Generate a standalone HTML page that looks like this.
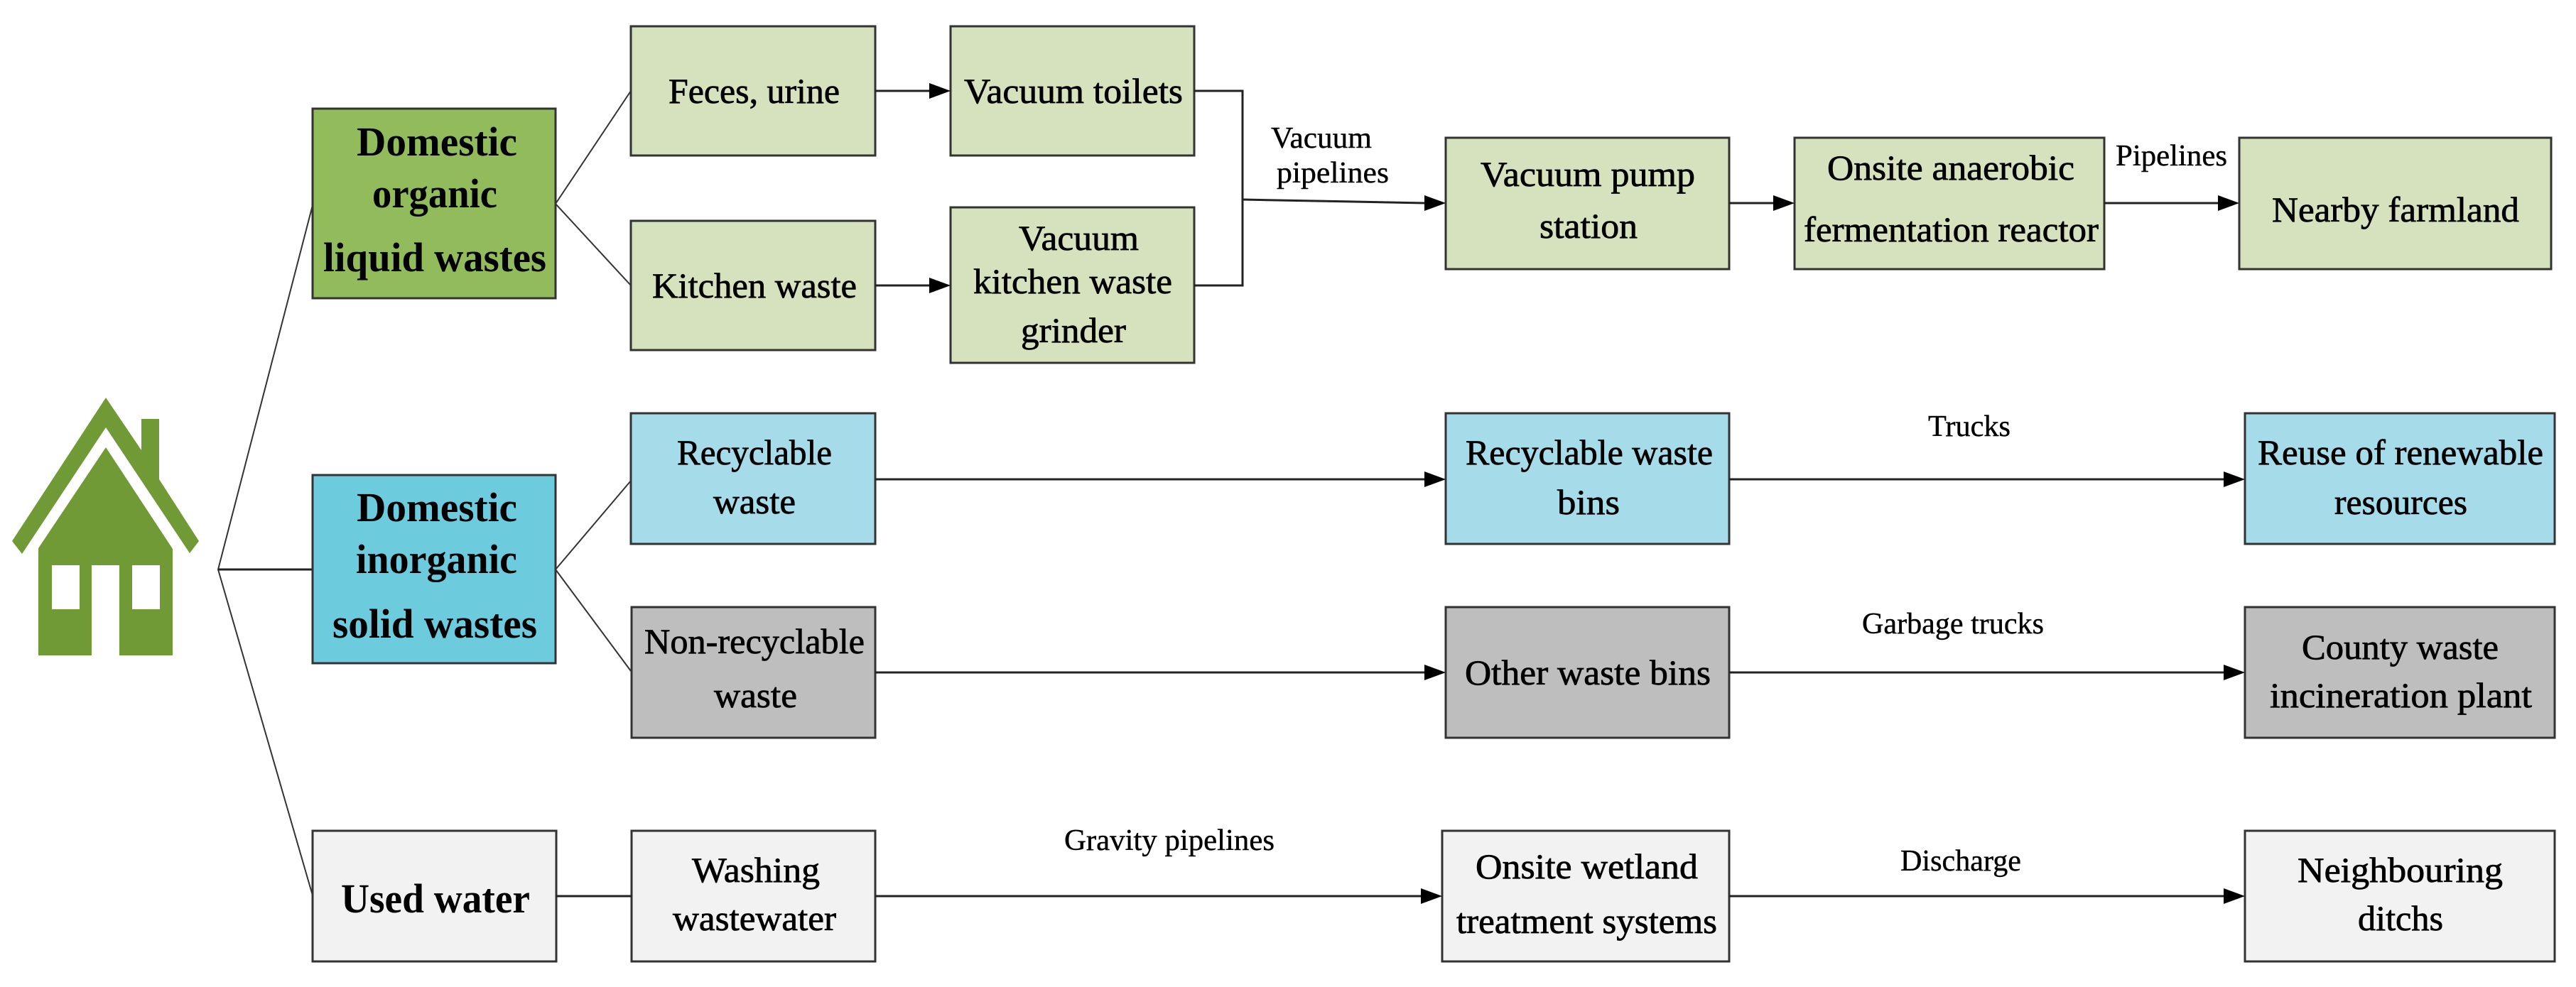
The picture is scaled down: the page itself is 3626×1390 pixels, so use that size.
<!DOCTYPE html>
<html lang="en">
<head>
<meta charset="utf-8">
<title>Domestic waste flow diagram</title>
<style>
html,body{margin:0;padding:0;background:#fff}
svg{display:block}
text{font-family:"Liberation Serif",serif;fill:#000}
.h{font-size:58px;font-weight:700}
.m{font-size:50px;stroke:#000;stroke-width:.75px}
.l{font-size:42px;stroke:#000;stroke-width:.4px}
.b{stroke:#333;stroke-width:3}
.c{stroke:#222;stroke-width:3;fill:none}
.t{stroke:#333;stroke-width:2;fill:none}
.a{fill:#000}
</style>
</head>
<body>
<svg xmlns="http://www.w3.org/2000/svg" width="3626" height="1390" viewBox="0 0 3626 1390">
<rect width="3626" height="1390" fill="#fff"/>

<!-- house -->
<g fill="#6f9a36">
<path d="M149 560 L199 634 L199 590 L224 590 L224 675 L280 762 L267 779 L149 602 L31 780 L17 762 Z"/>
<path fill-rule="evenodd" d="M149 630 L243 773 L243 923 L168 923 L168 796 L129 796 L129 923 L54 923 L54 772 Z M73 796 L112 796 L112 858 L73 858 Z M186 796 L225 796 L225 858 L186 858 Z"/>
</g>

<!-- thin connectors -->
<path class="t" d="M440 289 L307 802 L440 1261"/>
<path class="c" d="M307 802 L440 802"/>
<path class="t" d="M888 128 L782 287 L888 402"/>
<path class="t" d="M888 677 L782 802 L888 945"/>

<!-- boxes -->
<g class="b">
<rect x="440" y="153" width="342" height="267" fill="#92bc5b"/>
<rect x="440" y="669" width="342" height="265" fill="#6ccbdd"/>
<rect x="440" y="1170" width="343" height="184" fill="#f2f2f2"/>
<rect x="888" y="37" width="344" height="182" fill="#d5e2bd"/>
<rect x="888" y="311" width="344" height="182" fill="#d5e2bd"/>
<rect x="1338" y="37" width="343" height="182" fill="#d5e2bd"/>
<rect x="1338" y="292" width="343" height="219" fill="#d5e2bd"/>
<rect x="2035" y="194" width="399" height="185" fill="#d5e2bd"/>
<rect x="2526" y="194" width="436" height="185" fill="#d5e2bd"/>
<rect x="3152" y="194" width="439" height="185" fill="#d5e2bd"/>
<rect x="888" y="582" width="344" height="184" fill="#a6dcea"/>
<rect x="2035" y="582" width="399" height="184" fill="#a6dcea"/>
<rect x="3160" y="582" width="436" height="184" fill="#a6dcea"/>
<rect x="889" y="855" width="343" height="184" fill="#bebebe"/>
<rect x="2035" y="855" width="399" height="184" fill="#bebebe"/>
<rect x="3160" y="855" width="436" height="184" fill="#bebebe"/>
<rect x="889" y="1170" width="343" height="184" fill="#f2f2f2"/>
<rect x="2030" y="1170" width="404" height="184" fill="#f2f2f2"/>
<rect x="3160" y="1170" width="436" height="184" fill="#f2f2f2"/>
</g>

<!-- arrows and lines -->
<g class="c">
<path d="M1232 128 H1310"/>
<path d="M1232 402 H1310"/>
<path d="M1681 128 H1749 V402 H1681"/>
<path d="M1749 281 L2006 286"/>
<path d="M2434 286 H2498"/>
<path d="M2962 286 H3124"/>
<path d="M1232 675 H2007"/>
<path d="M2434 675 H3132"/>
<path d="M1232 947 H2007"/>
<path d="M2434 947 H3132"/>
<path d="M783 1262 H889"/>
<path d="M1232 1262 H2002"/>
<path d="M2434 1262 H3132"/>
</g>
<g class="a">
<polygon points="1338,128 1308,117 1308,139"/>
<polygon points="1338,402 1308,391 1308,413"/>
<polygon points="2035,286 2005,275 2005,297"/>
<polygon points="2526,286 2496,275 2496,297"/>
<polygon points="3152,286 3122,275 3122,297"/>
<polygon points="2035,675 2005,664 2005,686"/>
<polygon points="3160,675 3130,664 3130,686"/>
<polygon points="2035,947 2005,936 2005,958"/>
<polygon points="3160,947 3130,936 3130,958"/>
<polygon points="2030,1262 2000,1251 2000,1273"/>
<polygon points="3160,1262 3130,1251 3130,1273"/>
</g>

<!-- category labels -->
<text class="h" x="502" y="219" textLength="226" lengthAdjust="spacingAndGlyphs">Domestic</text>
<text class="h" x="524" y="292" textLength="176" lengthAdjust="spacingAndGlyphs">organic</text>
<text class="h" x="455" y="382" textLength="314" lengthAdjust="spacingAndGlyphs">liquid wastes</text>
<text class="h" x="502" y="734" textLength="226" lengthAdjust="spacingAndGlyphs">Domestic</text>
<text class="h" x="501" y="807" textLength="227" lengthAdjust="spacingAndGlyphs">inorganic</text>
<text class="h" x="468" y="898" textLength="288" lengthAdjust="spacingAndGlyphs">solid wastes</text>
<text class="h" x="480" y="1285" textLength="266" lengthAdjust="spacingAndGlyphs">Used water</text>

<!-- box labels -->
<text class="m" x="941" y="145" textLength="241" lengthAdjust="spacingAndGlyphs">Feces, urine</text>
<text class="m" x="1357" y="145" textLength="308" lengthAdjust="spacingAndGlyphs">Vacuum toilets</text>
<text class="m" x="918" y="419" textLength="288" lengthAdjust="spacingAndGlyphs">Kitchen waste</text>
<text class="m" x="1434" y="352" textLength="169" lengthAdjust="spacingAndGlyphs">Vacuum</text>
<text class="m" x="1370" y="413" textLength="280" lengthAdjust="spacingAndGlyphs">kitchen waste</text>
<text class="m" x="1437" y="482" textLength="148" lengthAdjust="spacingAndGlyphs">grinder</text>
<text class="m" x="2084" y="262" textLength="302" lengthAdjust="spacingAndGlyphs">Vacuum pump</text>
<text class="m" x="2167" y="335" textLength="138" lengthAdjust="spacingAndGlyphs">station</text>
<text class="m" x="2572" y="253" textLength="348" lengthAdjust="spacingAndGlyphs">Onsite anaerobic</text>
<text class="m" x="2539" y="340" textLength="415" lengthAdjust="spacingAndGlyphs">fermentation reactor</text>
<text class="m" x="3198" y="312" textLength="348" lengthAdjust="spacingAndGlyphs">Nearby farmland</text>
<text class="m" x="953" y="654" textLength="218" lengthAdjust="spacingAndGlyphs">Recyclable</text>
<text class="m" x="1004" y="723" textLength="116" lengthAdjust="spacingAndGlyphs">waste</text>
<text class="m" x="2063" y="654" textLength="348" lengthAdjust="spacingAndGlyphs">Recyclable waste</text>
<text class="m" x="2192" y="724" textLength="88" lengthAdjust="spacingAndGlyphs">bins</text>
<text class="m" x="3178" y="654" textLength="402" lengthAdjust="spacingAndGlyphs">Reuse of renewable</text>
<text class="m" x="3286" y="724" textLength="187" lengthAdjust="spacingAndGlyphs">resources</text>
<text class="m" x="907" y="920" textLength="310" lengthAdjust="spacingAndGlyphs">Non-recyclable</text>
<text class="m" x="1005" y="996" textLength="117" lengthAdjust="spacingAndGlyphs">waste</text>
<text class="m" x="2062" y="964" textLength="346" lengthAdjust="spacingAndGlyphs">Other waste bins</text>
<text class="m" x="3240" y="928" textLength="277" lengthAdjust="spacingAndGlyphs">County waste</text>
<text class="m" x="3195" y="996" textLength="369" lengthAdjust="spacingAndGlyphs">incineration plant</text>
<text class="m" x="974" y="1242" textLength="180" lengthAdjust="spacingAndGlyphs">Washing</text>
<text class="m" x="947" y="1310" textLength="230" lengthAdjust="spacingAndGlyphs">wastewater</text>
<text class="m" x="2077" y="1237" textLength="313" lengthAdjust="spacingAndGlyphs">Onsite wetland</text>
<text class="m" x="2050" y="1314" textLength="367" lengthAdjust="spacingAndGlyphs">treatment systems</text>
<text class="m" x="3234" y="1242" textLength="289" lengthAdjust="spacingAndGlyphs">Neighbouring</text>
<text class="m" x="3319" y="1310" textLength="120" lengthAdjust="spacingAndGlyphs">ditchs</text>

<!-- connector labels -->
<text class="l" x="1789" y="208" textLength="142" lengthAdjust="spacingAndGlyphs">Vacuum</text>
<text class="l" x="1797" y="257" textLength="158" lengthAdjust="spacingAndGlyphs">pipelines</text>
<text class="l" x="2978" y="233" textLength="157" lengthAdjust="spacingAndGlyphs">Pipelines</text>
<text class="l" x="2714" y="614" textLength="116" lengthAdjust="spacingAndGlyphs">Trucks</text>
<text class="l" x="2621" y="892" textLength="256" lengthAdjust="spacingAndGlyphs">Garbage trucks</text>
<text class="l" x="1498" y="1197" textLength="296" lengthAdjust="spacingAndGlyphs">Gravity pipelines</text>
<text class="l" x="2675" y="1226" textLength="170" lengthAdjust="spacingAndGlyphs">Discharge</text>
</svg>
</body>
</html>
